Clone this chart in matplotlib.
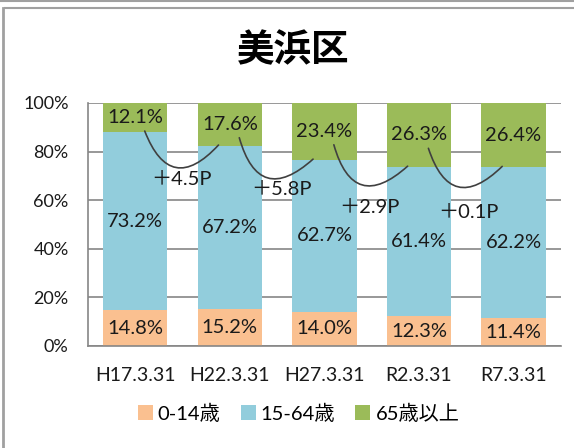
import numpy as np
import matplotlib
matplotlib.use('Agg')
import matplotlib.pyplot as plt
from matplotlib.lines import Line2D
from matplotlib.patches import Patch

plt.rcParams['font.family'] = ['Lato', 'Noto Sans CJK JP', 'DejaVu Sans']

# data
dates = ['H17.3.31', 'H22.3.31', 'H27.3.31', 'R2.3.31', 'R7.3.31']
age_0_14 = [14.8, 15.2, 14.0, 12.3, 11.4]
age_15_64 = [73.2, 67.2, 62.7, 61.4, 62.2]
age_65 = [12.1, 17.6, 23.4, 26.3, 26.4]
diff_labels = ['＋4.5P', '＋5.8P', '＋2.9P', '＋0.1P']

series_names = ['0-14歳', '15-64歳', '65歳以上']
colors = ['#FAC090', '#92CDDC', '#9BBB59']

# layout of the change labels (x offset from bar, y in %)
diff_pos = [(0.49, 68.7), (1.55, 64.2), (2.48, 56.8), (3.52, 55.1)]

fig = plt.figure(figsize=(5.74, 4.48), dpi=100)
ax = fig.add_axes([0.1533, 0.2277, 0.8237, 0.5424])

x = np.arange(len(dates))
w = 0.68
bottom = np.zeros(len(dates))
for vals, col in zip([age_0_14, age_15_64, age_65], colors):
    vals = np.array(vals)
    ax.bar(x, vals, w, bottom=bottom, color=col, zorder=2)
    for xi, b, v in zip(x, bottom, vals):
        ax.text(xi, min(b + v / 2, 100 - v / 2), f'{v:.1f}%', ha='center', va='center',
                fontsize=14.5, color='#1a1a1a', zorder=4)
    bottom += vals

# arcs from each 65+ label to the next bar
for i in range(len(dates) - 1):
    y0 = 100 - age_65[i] / 2 - 5.5
    y1 = 100 - age_65[i + 1] + 0.3
    ax.annotate('', xy=(i + 0.88, y1), xytext=(i + 0.1, y0),
                arrowprops=dict(arrowstyle='-', color='#404040', lw=1.2,
                                shrinkA=0, shrinkB=0,
                                connectionstyle='arc3,rad=0.8'), zorder=3)
    ax.text(diff_pos[i][0], diff_pos[i][1], diff_labels[i], ha='center', va='center',
            fontsize=14.5, color='#1a1a1a', zorder=4)

ax.set_xlim(-0.5, 4.5)
ax.set_ylim(0, 100)
ax.set_yticks(np.arange(0, 101, 20))
ax.set_yticklabels([f'{v}%' for v in range(0, 101, 20)])
ax.set_xticks(x)
ax.set_xticklabels(dates)
ax.tick_params(axis='y', length=0, pad=14, labelsize=13, labelcolor='#1a1a1a')
ax.tick_params(axis='x', length=0, pad=15, labelsize=14, labelcolor='#1a1a1a')
ax.yaxis.grid(True, color='#868686', lw=1.2, zorder=0)
ax.set_axisbelow(True)
for s in ['top', 'right']:
    ax.spines[s].set_visible(False)
for s in ['left', 'bottom']:
    ax.spines[s].set_color('#868686')
    ax.spines[s].set_linewidth(1.2)

fig.text(0.51, 0.888, '美浜区', ha='center', va='center', fontsize=27,
         fontweight='bold', family=['Noto Sans CJK JP'])

handles = [Patch(facecolor=c) for c in colors]
fig.legend(handles, series_names, loc='center', bbox_to_anchor=(0.52, 0.078), ncol=3,
           frameon=False, fontsize=14.5, handlelength=0.75, handleheight=0.75,
           handletextpad=0.25, columnspacing=1.0)

# frame lines from the original screenshot
fig.add_artist(Line2D([0, 1], [0.997, 0.997], color='#a0a0a0', lw=1.5))
fig.add_artist(Line2D([0.008, 1], [0.982, 0.982], color='#a0a0a0', lw=1.5))
fig.add_artist(Line2D([0.006, 0.006], [0, 0.982], color='#a0a0a0', lw=2))

fig.savefig('out.png', dpi=100)
